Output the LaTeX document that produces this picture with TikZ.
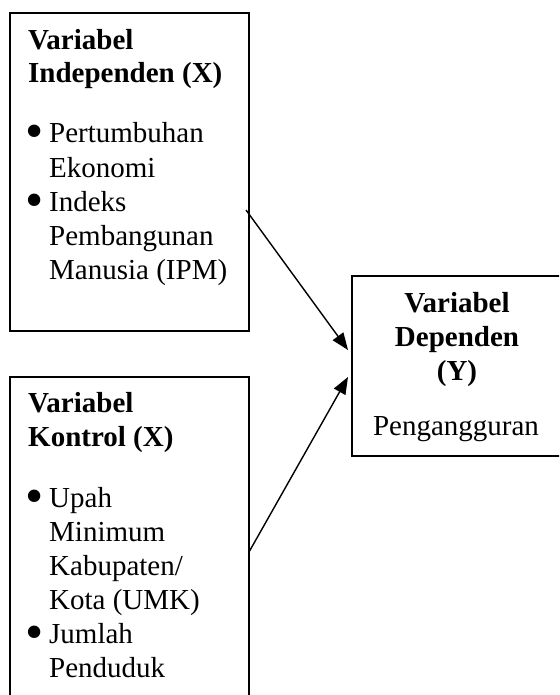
\documentclass[tikz,border=0pt]{standalone}
\usepackage{fontspec}
\setmainfont{Liberation Serif}
\usetikzlibrary{arrows.meta}
\begin{document}
\begin{tikzpicture}[x=1pt,y=-1pt,
  box/.style={draw,line width=1.8pt,inner sep=0pt,anchor=north west},
  hd/.style={anchor=base west,inner sep=0pt,font=\fontsize{29}{34}\selectfont\bfseries},
  hdc/.style={anchor=base,inner sep=0pt,font=\fontsize{29}{34}\selectfont\bfseries},
  tx/.style={anchor=base west,inner sep=0pt,font=\fontsize{29}{34}\selectfont},
  txc/.style={anchor=base,inner sep=0pt,font=\fontsize{29}{34}\selectfont},
  bul/.style={anchor=base west,inner sep=0pt,font=\fontsize{52}{52}\selectfont},
  arr/.style={line width=1.4pt,-{Triangle[length=17pt,width=13pt]}}]
\useasboundingbox (0,0) rectangle (559,695);
\clip (0,0) rectangle (559,695);
% boxes
\node[box,minimum width=239pt,minimum height=318pt] (b1) at (9,12) {};
\node[box,minimum width=239pt,minimum height=340pt] (b2) at (9,376) {};
\node[box,minimum width=240pt,minimum height=180pt] (b3) at (351,275) {};
% box 1 text
\node[hd] (h1a) at (28,50) {Variabel};
\node[hd] (h1b) at (28,83) {Independen (X)};
\node[bul] (u1a) at (25,149) {\textbullet};
\node[tx] (t1a) at (49,143) {Pertumbuhan};
\node[tx] (t1b) at (49,177) {Ekonomi};
\node[bul] (u1b) at (25,217) {\textbullet};
\node[tx] (t1c) at (49,211) {Indeks};
\node[tx] (t1d) at (49,245) {Pembangunan};
\node[tx] (t1e) at (49,279) {Manusia (IPM)};
% box 2 text
\node[hd] (h2a) at (28,412) {Variabel};
\node[hd] (h2b) at (28,446) {Kontrol (X)};
\node[bul] (u2a) at (25,513) {\textbullet};
\node[tx] (t2a) at (49,507) {Upah};
\node[tx] (t2b) at (49,541) {Minimum};
\node[tx] (t2c) at (49,575) {Kabupaten/};
\node[tx] (t2d) at (49,609) {Kota (UMK)};
\node[bul] (u2b) at (25,649) {\textbullet};
\node[tx] (t2e) at (49,643) {Jumlah};
\node[tx] (t2f) at (49,677) {Penduduk};
% box 3 text
\node[hdc] (h3a) at (457,312) {Variabel};
\node[hdc] (h3b) at (457,346) {Dependen};
\node[hdc] (h3c) at (457,380) {(Y)};
\node[txc] (t3a) at (456,435) {Pengangguran};
% arrows
\coordinate (s1) at (246,210);
\coordinate (e1) at (348,350);
\coordinate (s2) at (249,552);
\coordinate (e2) at (348,377);
\draw[arr] (s1) -- (e1);
\draw[arr] (s2) -- (e2);
\end{tikzpicture}
\end{document}
